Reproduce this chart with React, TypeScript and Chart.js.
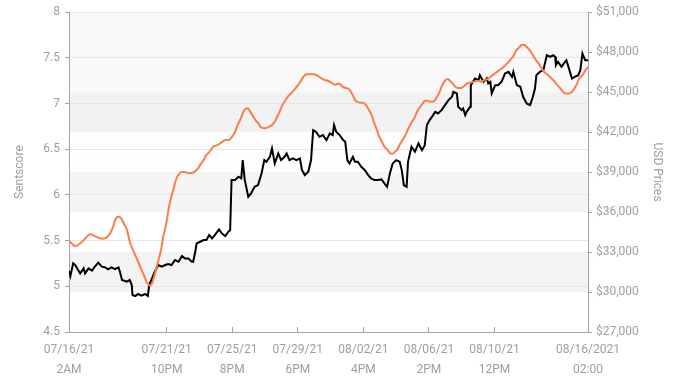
import React, { useEffect, useRef } from "react";
import { Chart, registerables } from "chart.js";

Chart.register(...registerables);

// x values are hours elapsed since 07/16/21 2AM
const tickHours = [0, 140, 234, 328, 422, 516, 610, 744];
const tickDates = ["07/16/21", "07/21/21", "07/25/21", "07/29/21", "08/02/21", "08/06/21", "08/10/21", "08/16/2021"];
const tickTimes = ["2AM", "10PM", "8PM", "6PM", "4PM", "2PM", "12PM", "02:00"];

const priceHours = [
  0, 2, 6, 9, 13, 16, 21, 23, 28, 33,
  37, 42, 47, 52, 56, 61, 66, 71, 73, 76,
  83, 87, 90, 91, 95, 99, 104, 109, 113, 115,
  119, 123, 128, 133, 138, 142, 147, 152, 157, 162,
  166, 171, 176, 178, 181, 183, 188, 193, 197, 201,
  205, 209, 215, 219, 224, 228, 231, 233, 238, 243,
  247, 249, 252, 257, 261, 266, 271, 276, 280, 283,
  288, 291, 295, 300, 304, 309, 312, 316, 321, 326,
  331, 334, 338, 343, 347, 350, 354, 359, 364, 369,
  374, 378, 380, 383, 388, 393, 396, 399, 402, 407,
  410, 414, 419, 424, 429, 433, 438, 443, 448, 453,
  456, 460, 464, 469, 474, 477, 480, 484, 486, 491,
  496, 501, 506, 510, 513, 517, 522, 525, 529, 534,
  539, 544, 549, 551, 556, 558, 563, 565, 568, 570,
  575, 576, 582, 587, 589, 594, 599, 601, 604, 606,
  611, 615, 620, 625, 630, 635, 637, 642, 647, 651,
  656, 661, 665, 668, 670, 675, 680, 685, 690, 694,
  697, 698, 701, 706, 711, 713, 716, 721, 725, 730,
  733, 736, 740, 744,
];
const priceValues = [
  31575, 31200, 32150, 32025, 31650, 31400, 31775, 31400, 31775, 31600,
  31900, 32200, 31900, 31850, 31700, 31850, 31725, 31850, 31525, 30900,
  30775, 30900, 30525, 29775, 29700, 29850, 29725, 29850, 29700, 30525,
  31025, 31525, 32025, 31900, 32025, 32100, 32025, 32400, 32275, 32700,
  32525, 32525, 32275, 32275, 33025, 33650, 33775, 33900, 33900, 34275,
  34025, 34275, 34700, 34400, 34200, 34500, 34650, 38400, 38400, 38650,
  38525, 39900, 38400, 37150, 37400, 37900, 38025, 38900, 39900, 39775,
  40150, 40775, 39650, 40400, 39900, 40150, 40400, 39900, 40025, 39900,
  40025, 39150, 38775, 39025, 39900, 42150, 42025, 41650, 41775, 41400,
  41900, 41775, 42525, 42025, 41775, 41400, 41275, 39900, 39650, 40150,
  39775, 39775, 39400, 39150, 38775, 38525, 38400, 38400, 38450, 38100,
  37900, 38900, 39650, 39900, 39775, 39150, 38025, 37900, 39775, 40900,
  40525, 41150, 40650, 41025, 42525, 42900, 43275, 43525, 43400, 43650,
  44025, 44400, 44650, 45025, 44900, 43900, 43650, 43775, 43275, 43525,
  43900, 45525, 46025, 45900, 46275, 45775, 46025, 45650, 45775, 44900,
  45525, 45525, 45775, 46400, 46525, 46150, 46525, 45525, 45400, 44650,
  44150, 44025, 44650, 45275, 46275, 46525, 46650, 47775, 47650, 47775,
  47650, 47025, 47275, 46900, 47275, 47400, 46900, 46025, 46150, 46275,
  46650, 47900, 47400, 47400,
];

const scoreHours = [
  0, 9, 16, 23, 30, 37, 47, 53, 59, 64,
  67, 71, 75, 79, 83, 87, 91, 95, 99, 104,
  108, 111, 114, 116, 119, 121, 124, 128, 132, 135,
  139, 142, 146, 150, 154, 158, 162, 166, 171, 176,
  181, 185, 189, 193, 196, 200, 204, 207, 211, 216,
  221, 225, 229, 234, 238, 242, 247, 250, 253, 256,
  259, 264, 268, 272, 275, 280, 285, 290, 295, 298,
  302, 305, 309, 314, 318, 323, 327, 330, 334, 338,
  341, 345, 350, 355, 361, 366, 371, 376, 380, 383,
  386, 389, 393, 397, 401, 404, 407, 410, 413, 417,
  422, 426, 430, 434, 437, 441, 444, 448, 452, 457,
  460, 464, 467, 471, 474, 478, 482, 486, 490, 495,
  499, 503, 507, 510, 514, 517, 521, 525, 528, 532,
  535, 539, 543, 546, 550, 553, 557, 562, 566, 571,
  576, 581, 586, 591, 596, 601, 605, 609, 614, 618,
  623, 628, 633, 637, 641, 646, 649, 653, 656, 661,
  665, 669, 674, 678, 682, 687, 691, 695, 699, 704,
  708, 712, 717, 720, 724, 728, 731, 736, 740, 744,
];
const scoreValues = [
  5.50, 5.44, 5.47, 5.52, 5.57, 5.55, 5.52, 5.53, 5.58, 5.67,
  5.74, 5.76, 5.74, 5.68, 5.62, 5.49, 5.41, 5.34, 5.27, 5.18,
  5.11, 5.05, 5.02, 5.01, 5.03, 5.08, 5.16, 5.28, 5.40, 5.54,
  5.67, 5.81, 5.96, 6.07, 6.18, 6.23, 6.25, 6.25, 6.24, 6.24,
  6.26, 6.29, 6.34, 6.38, 6.43, 6.46, 6.50, 6.53, 6.54, 6.56,
  6.59, 6.60, 6.60, 6.64, 6.69, 6.77, 6.85, 6.91, 6.94, 6.95,
  6.92, 6.86, 6.81, 6.78, 6.74, 6.73, 6.74, 6.76, 6.80, 6.85,
  6.91, 6.97, 7.02, 7.08, 7.11, 7.15, 7.19, 7.22, 7.27, 7.31,
  7.32, 7.32, 7.32, 7.31, 7.28, 7.26, 7.25, 7.23, 7.21, 7.21,
  7.22, 7.21, 7.18, 7.17, 7.16, 7.13, 7.09, 7.04, 7.02, 7.01,
  7.01, 6.98, 6.93, 6.87, 6.80, 6.72, 6.65, 6.59, 6.53, 6.49,
  6.46, 6.45, 6.47, 6.50, 6.55, 6.60, 6.65, 6.72, 6.78, 6.84,
  6.91, 6.96, 7.00, 7.03, 7.03, 7.02, 7.02, 7.04, 7.08, 7.14,
  7.20, 7.25, 7.27, 7.25, 7.22, 7.19, 7.17, 7.17, 7.19, 7.22,
  7.23, 7.24, 7.25, 7.24, 7.26, 7.27, 7.30, 7.32, 7.35, 7.37,
  7.40, 7.44, 7.48, 7.52, 7.58, 7.62, 7.64, 7.64, 7.62, 7.58,
  7.53, 7.48, 7.43, 7.38, 7.34, 7.31, 7.28, 7.25, 7.21, 7.17,
  7.13, 7.11, 7.11, 7.12, 7.16, 7.21, 7.27, 7.31, 7.36, 7.40,
];

const AXIS_GRAY = "#a3a3a3";
const TEXT_GRAY = "#9e9e9e";
const BAND_COLORS = ["#f8f8f8", "#f9f9f9", "#f2f2f2", "#fdfdfd", "#f5f5f5", "#ffffff", "#f3f3f3", "#ffffff"];

const bandPlugin = {
  id: "bands",
  beforeDraw(chart: any) {
    const { ctx, chartArea, scales } = chart;
    const y1 = scales.y1;
    if (!y1) return;
    const ticks = y1.ticks.map((t: any) => t.value).sort((a: number, b: number) => b - a);
    ctx.save();
    for (let i = 0; i < ticks.length - 1; i++) {
      const top = y1.getPixelForValue(ticks[i]);
      const bottom = y1.getPixelForValue(ticks[i + 1]);
      ctx.fillStyle = BAND_COLORS[i % BAND_COLORS.length];
      ctx.fillRect(chartArea.left, top, chartArea.right - chartArea.left, bottom - top);
    }
    ctx.restore();
  },
};

export default function App() {
  const ref = useRef<HTMLCanvasElement | null>(null);
  useEffect(() => {
    if (!ref.current) return;
    Chart.defaults.font.family = "Roboto";
    Chart.defaults.font.size = 12;
    Chart.defaults.color = TEXT_GRAY;
    const priceData = priceHours.map((h, i) => ({ x: h, y: priceValues[i] }));
    const scoreData = scoreHours.map((h, i) => ({ x: h, y: scoreValues[i] }));
    const chart = new Chart(ref.current, {
      type: "line",
      data: {
        datasets: [
          {
            label: "USD Price",
            data: priceData,
            yAxisID: "y1",
            borderColor: "#000000",
            borderWidth: 2,
            pointRadius: 0,
            tension: 0,
            order: 2,
          },
          {
            label: "Sentscore",
            data: scoreData,
            yAxisID: "y",
            borderColor: "rgb(250,125,75)",
            borderWidth: 2,
            pointRadius: 0,
            tension: 0.4,
            cubicInterpolationMode: "monotone",
            order: 1,
          },
        ],
      },
      options: {
        responsive: false,
        animation: false,
        layout: { padding: { top: 12, left: 0, right: 0, bottom: 0 } },
        plugins: { legend: { display: false }, tooltip: { enabled: false } },
        scales: {
          x: {
            type: "linear",
            min: 0,
            max: 744,
            afterBuildTicks: (scale: any) => {
              scale.ticks = tickHours.map((v) => ({ value: v }));
            },
            afterFit: (scale: any) => {
              scale.height = 45;
            },
            ticks: {
              autoSkip: false,
              maxRotation: 0,
              minRotation: 0,
              padding: 13,
              color: TEXT_GRAY,
              font: { size: 12, lineHeight: "20px" },
              callback: (value: any) => {
                const i = tickHours.indexOf(Number(value));
                return i >= 0 ? [tickDates[i], tickTimes[i]] : "";
              },
            },
            grid: { drawOnChartArea: false, tickLength: -5, color: AXIS_GRAY, tickColor: AXIS_GRAY },
            border: { display: true, color: AXIS_GRAY },
          },
          y: {
            type: "linear",
            position: "left",
            min: 4.5,
            max: 8,
            afterFit: (scale: any) => {
              scale.width = 69;
            },
            ticks: {
              stepSize: 0.5,
              padding: 5,
              color: TEXT_GRAY,
              font: { size: 12 },
              callback: (v: any) => String(Math.round(Number(v) * 10) / 10),
            },
            grid: { color: "#e6e6e6", tickColor: AXIS_GRAY, tickLength: 4 },
            border: { display: true, color: AXIS_GRAY },
            title: {
              display: true,
              text: "Sentscore",
              color: TEXT_GRAY,
              font: { size: 12 },
              padding: { top: 13, bottom: 0 },
            },
          },
          y1: {
            type: "linear",
            position: "right",
            min: 27000,
            max: 51000,
            afterFit: (scale: any) => {
              scale.width = 86;
            },
            ticks: {
              stepSize: 3000,
              padding: 4,
              color: TEXT_GRAY,
              font: { size: 12 },
              callback: (v: any) => "$" + Number(v).toLocaleString("en-US"),
            },
            grid: { drawOnChartArea: false, tickColor: AXIS_GRAY, tickLength: 4 },
            border: { display: true, color: AXIS_GRAY },
            title: {
              display: true,
              text: "USD Prices",
              color: TEXT_GRAY,
              font: { size: 12 },
              padding: { top: 10, bottom: 0 },
            },
          },
        },
      },
      plugins: [bandPlugin],
    } as any);
    return () => chart.destroy();
  }, []);
  return (
    <div style={{ position: "fixed", left: 0, top: 0, width: 674, height: 377, background: "#fff" }}>
      <canvas ref={ref} width={674} height={377} style={{ display: "block" }} />
    </div>
  );
}
